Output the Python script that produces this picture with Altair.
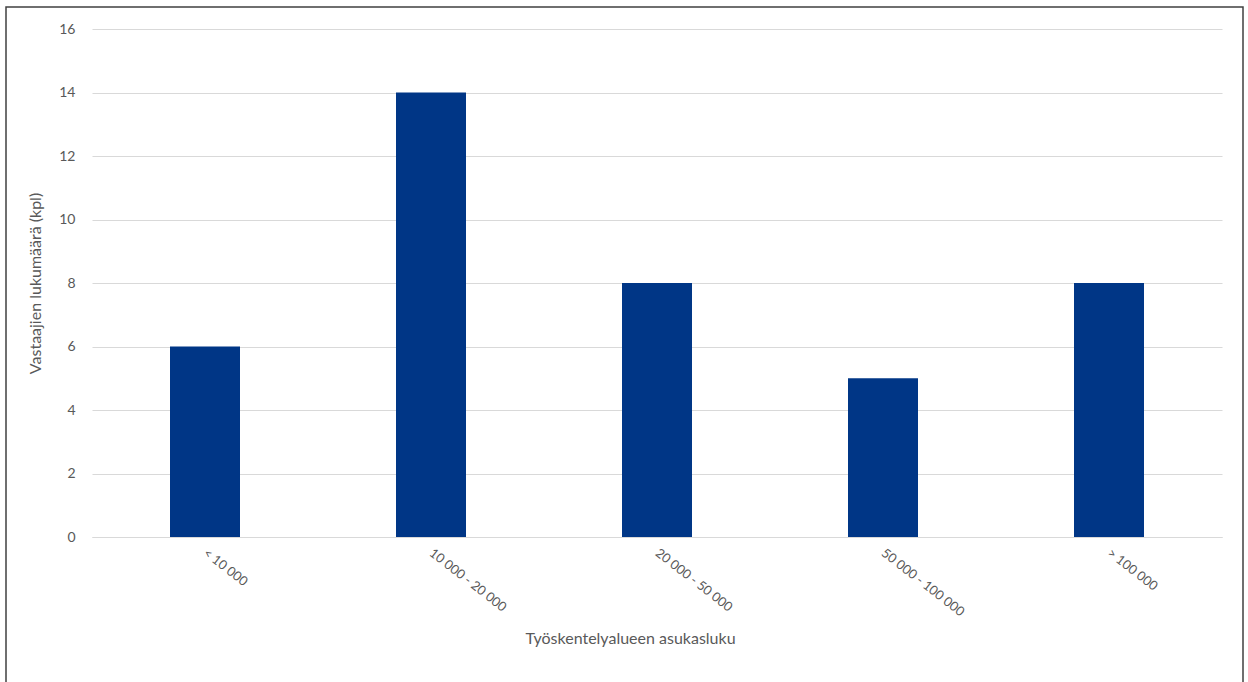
import altair as alt
import pandas as pd

categories = ["< 10 000", "10 000 - 20 000", "20 000 - 50 000", "50 000 - 100 000", "> 100 000"]
values = [6, 14, 8, 5, 8]

df = pd.DataFrame({"cat": categories, "val": values})

FONT = "Lato"
TXT = "#595959"

bars = alt.Chart(df).mark_bar(size=70, color="#003686").encode(
    x=alt.X("cat:N", sort=categories,
            scale=alt.Scale(paddingInner=0, paddingOuter=0),
            axis=alt.Axis(title="Työskentelyalueen asukasluku", labelAngle=38,
                          labelAlign="left", labelBaseline="middle",
                          labelPadding=14, ticks=False, grid=False, domainColor="#d9d9d9",
                          labelColor=TXT, labelFontSize=13, labelFont=FONT,
                          titleColor=TXT, titleFontSize=16, titleFont=FONT,
                          titleFontWeight="normal", titleX=538, titleY=101,
                          titleBaseline="middle", titleAlign="center")),
    y=alt.Y("val:Q", scale=alt.Scale(domain=[0, 16], nice=False),
            axis=alt.Axis(title="Vastaajien lukumäärä (kpl)", values=list(range(0, 17, 2)),
                          domain=False, ticks=False, gridColor="#d9d9d9",
                          labelColor=TXT, labelFontSize=14, labelFont=FONT,
                          labelPadding=17,
                          titleColor=TXT, titleFontSize=16, titleFont=FONT,
                          titleFontWeight="normal", titleX=-57, titleY=254,
                          titleBaseline="middle", titleAlign="center")),
)

frame = alt.Chart(df).mark_rect(fill=None, stroke="#404040", strokeWidth=1.5).encode(
    x=alt.value(-86), x2=alt.value(1151), y=alt.value(-22), y2=alt.value(665)
).transform_filter(alt.datum.cat == "< 10 000")

chart = alt.layer(bars, frame).properties(
    width=1130, height=508,
    background="white",
    autosize=alt.AutoSizeParams(type="none"),
    padding={"left": 92, "top": 29, "right": 26, "bottom": 145},
).configure_view(stroke="transparent", strokeWidth=0)

chart.save("out.html", embed_options={"renderer": "svg", "actions": False})
